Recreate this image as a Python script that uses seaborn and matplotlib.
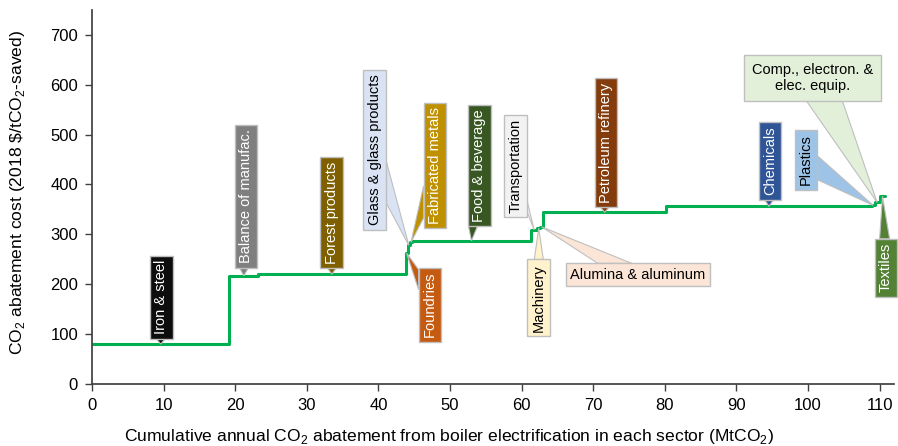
import matplotlib
matplotlib.use("Agg")
import matplotlib.pyplot as plt
from matplotlib.patches import Polygon
import numpy as np
import pandas as pd
import seaborn as sns

# Sector data (abatement in MtCO2, cost in $/tCO2)
sectors = [
    "Iron & steel", "Balance of manufac.", "Forest products", "Foundries",
    "Glass & glass products", "Fabricated metals", "Food & beverage",
    "Transportation", "Machinery", "Alumina & aluminum", "Petroleum refinery",
    "Chemicals", "Plastics", "Comp., electron. &\nelec. equip.", "Textiles",
]
abatement = [19.2, 4.0, 20.6, 0.3, 0.3, 0.3, 16.6, 0.9, 0.4, 0.4, 17.2, 28.7, 0.4, 0.7, 0.8]
cost = [80, 217, 220, 262, 278, 284, 287, 309, 312, 315, 344, 356, 358, 364, 376]

box_colors = [
    "#0d0d0d", "#7f7f7f", "#7f6000", "#c55a11", "#dae3f3", "#bf9000", "#385723",
    "#f2f2f2", "#fff2cc", "#fbe5d6", "#843c0c", "#2f5597", "#9dc3e6", "#e2f0d9", "#548235",
]
text_colors = [
    "white", "white", "white", "white", "black", "white", "white",
    "black", "black", "black", "white", "white", "black", "black", "white",
]

# callout layout: box centres (data coords), rotation, wedge base width (px)
box_x = [9.7, 21.5, 33.5, 47.2, 39.5, 47.9, 54.1, 59.1, 62.4, 76.2, 71.8, 94.7, 99.7, 100.6, 110.9]
box_y = [174, 376, 344, 159, 469, 438, 438, 437, 173, 219, 484, 447, 449, 614, 233]
box_rot = [90, 90, 90, 90, 90, 90, 90, 90, 90, 0, 90, 90, 90, 0, 90]
wedge_w = [9, 9, 9, 20, 42, 32, 9, 12, 9, 34, 9, 9, 24, 36, 10]
box_pad = [0.3] * 13 + [0.55, 0.3]

sns.set_theme(style="ticks")
plt.rcParams["font.family"] = ["Liberation Sans", "DejaVu Sans"]
plt.rcParams["mathtext.fontset"] = "custom"
plt.rcParams["mathtext.rm"] = "Liberation Sans"

edges = np.concatenate([[0], np.cumsum(abatement)])
step_df = pd.DataFrame({"x": edges, "y": cost + [cost[-1]]})

fig = plt.figure(figsize=(8.98, 4.46), dpi=100)
ax = fig.add_axes([0.1024, 0.139, 0.8931, 0.839])

sns.lineplot(data=step_df, x="x", y="y", drawstyle="steps-post", color="#00b050",
             linewidth=2.2, sort=False, estimator=None, ax=ax)

ax.set_xlim(0, 112)
ax.set_ylim(0, 750)
ax.set_xticks(range(0, 111, 10))
ax.set_yticks(range(0, 701, 100))
ax.tick_params(labelsize=12, length=5, width=1, color="#404040", labelcolor="black", pad=5)
for s in ["left", "bottom"]:
    ax.spines[s].set_color("#404040")
sns.despine(ax=ax)

ax.set_xlabel(r"Cumulative annual CO$_\mathregular{2}$ abatement from boiler electrification in each sector (MtCO$_\mathregular{2}$)",
              fontsize=12.6, color="black")
ax.set_ylabel(r"CO$_\mathregular{2}$ abatement cost (2018 \$/tCO$_\mathregular{2}$-saved)",
              fontsize=12.6, color="black")
ax.xaxis.set_label_coords(0.445, -0.116)
ax.yaxis.set_label_coords(-0.081, 0.513)

# callout boxes
mids = (edges[:-1] + edges[1:]) / 2
labels = []
for i, name in enumerate(sectors):
    t = ax.text(box_x[i], box_y[i], name, rotation=box_rot[i], ha="center", va="center",
                fontsize=10.5, color=text_colors[i], multialignment="center", zorder=5,
                bbox=dict(boxstyle=f"square,pad={box_pad[i]}", fc=box_colors[i],
                          ec="#bfbfbf", lw=1))
    labels.append(t)

# callout wedges, from the box edge to the point on the curve
fig.canvas.draw()
renderer = fig.canvas.get_renderer()
inv = ax.transData.inverted()
for i, t in enumerate(labels):
    ext = t.get_bbox_patch().get_window_extent(renderer)
    cx, cy = (ext.x0 + ext.x1) / 2, (ext.y0 + ext.y1) / 2
    hw, hh = ext.width / 2, ext.height / 2
    tx, ty = ax.transData.transform((mids[i], cost[i]))
    dx, dy = tx - cx, ty - cy
    sx = hw / abs(dx) if dx else np.inf
    sy = hh / abs(dy) if dy else np.inf
    half = wedge_w[i] / 2
    if sx < sy:
        ex = cx + np.sign(dx) * hw
        ey = np.clip(cy + dy * sx, ext.y0 + half, ext.y1 - half)
        base = [(ex, ey - half), (ex, ey + half)]
    else:
        ey = cy + np.sign(dy) * hh
        ex = np.clip(cx + dx * sy, ext.x0 + half, ext.x1 - half)
        base = [(ex - half, ey), (ex + half, ey)]
    pts = inv.transform(np.array(base + [(tx, ty)]))
    ax.add_patch(Polygon(pts, closed=True, fc=box_colors[i], ec="#bfbfbf", lw=0.8,
                         zorder=4, clip_on=False))

fig.savefig("out.png", dpi=100)
